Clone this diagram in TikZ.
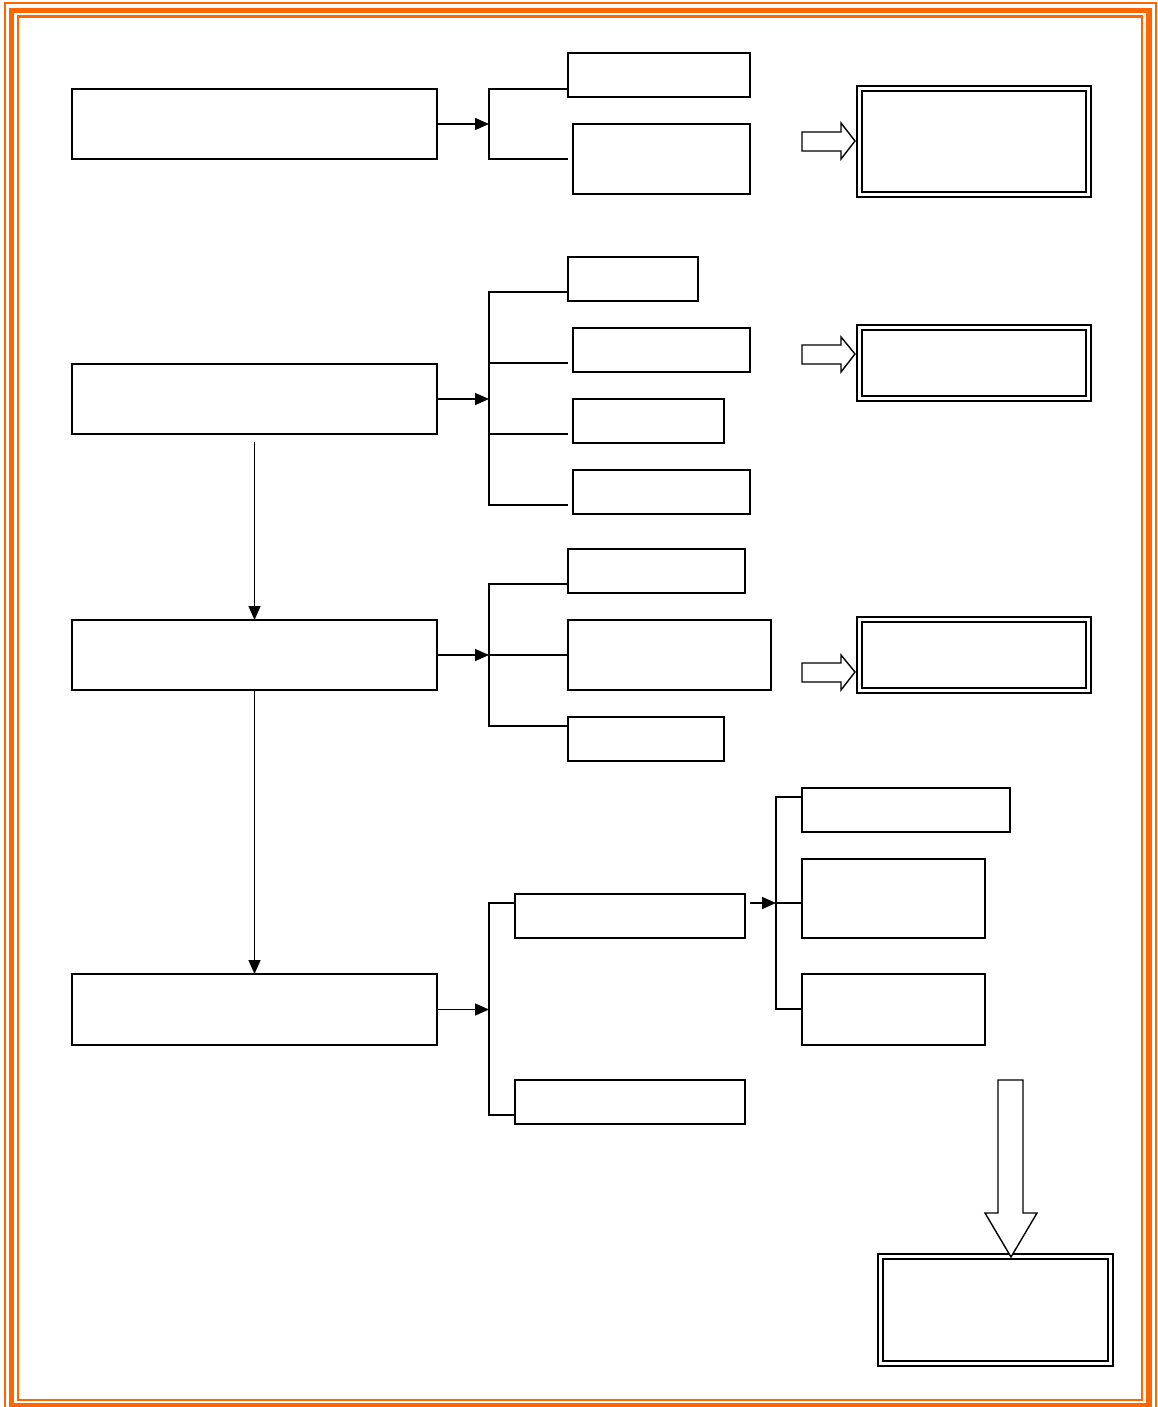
\documentclass[tikz,border=0pt]{standalone}
\usetikzlibrary{arrows.meta}
\definecolor{frameor}{RGB}{255,102,0}
\begin{document}
\begin{tikzpicture}[x=1pt,y=-1pt,
  bx/.style={draw, line width=1.4pt, rectangle, inner sep=0pt, outer sep=0pt, anchor=north west},
  dbx/.style={draw, line width=2pt, double, double distance=2.6pt, rectangle, inner sep=0pt, outer sep=0pt, anchor=north west},
  ln/.style={line width=1.4pt},
  arr/.style={line width=1.4pt, -{Triangle[length=14pt,width=12pt]}},
  blk/.style={draw, line width=1.4pt, fill=white, line join=miter},
  frm/.style={draw=frameor}]
\useasboundingbox (0,0) rectangle (1158,1407);
% frame
\draw[frm, line width=2pt] (4.5,3) rectangle (1155.5,1412);
\draw[frm, line width=5.5pt] (11.5,10.5) rectangle (1149,1406);
\draw[frm, line width=2.5pt] (18,16.5) rectangle (1142,1400);
% main column
\node[bx, minimum width=365pt, minimum height=70pt] (A) at (72,89) {};
\node[bx, minimum width=365pt, minimum height=70pt] (B) at (72,364) {};
\node[bx, minimum width=365pt, minimum height=70pt] (C) at (72,620) {};
\node[bx, minimum width=365pt, minimum height=71pt] (D) at (72,974) {};
% group A
\node[bx, minimum width=182pt, minimum height=44pt] (a1) at (568,53) {};
\node[bx, minimum width=177pt, minimum height=70pt] (a2) at (573,124) {};
% group B
\node[bx, minimum width=130pt, minimum height=44pt] (b1) at (568,257) {};
\node[bx, minimum width=177pt, minimum height=44pt] (b2) at (573,328) {};
\node[bx, minimum width=151pt, minimum height=44pt] (b3) at (573,399) {};
\node[bx, minimum width=177pt, minimum height=44pt] (b4) at (573,470) {};
% group C
\node[bx, minimum width=177pt, minimum height=44pt] (c1) at (568,549) {};
\node[bx, minimum width=203pt, minimum height=70pt] (c2) at (568,620) {};
\node[bx, minimum width=156pt, minimum height=44pt] (c3) at (568,717) {};
% group D
\node[bx, minimum width=230pt, minimum height=44pt] (d1) at (515,894) {};
\node[bx, minimum width=230pt, minimum height=44pt] (d2) at (515,1080) {};
\node[bx, minimum width=208pt, minimum height=44pt] (e1) at (802,788) {};
\node[bx, minimum width=183pt, minimum height=79pt] (e2) at (802,859) {};
\node[bx, minimum width=183pt, minimum height=71pt] (e3) at (802,974) {};
% double boxes
\node[dbx, minimum width=229pt, minimum height=106pt] (pa) at (859.5,88.5) {};
\node[dbx, minimum width=229pt, minimum height=71pt] (pb) at (859.5,327.5) {};
\node[dbx, minimum width=229pt, minimum height=71pt] (pc) at (859.5,619.5) {};
\node[dbx, minimum width=230pt, minimum height=107pt] (pd) at (880.5,1256.5) {};
% bracket coordinates
\coordinate (jA) at (489,124);
\coordinate (jB) at (489,399);
\coordinate (jC) at (489,655);
\coordinate (jD) at (489,1009);
\coordinate (jE) at (776,903);
\coordinate (sB) at (255,442);
\coordinate (sd1) at (750,903);
% main arrows
\draw[arr] (A.east) -- (A.east -| jA);
\draw[arr] (B.east) -- (B.east -| jB);
\draw[arr] (C.east) -- (C.east -| jC);
\draw[arr] (D.east) -- (D.east -| jD);
\draw[arr] (C.north |- sB) -- (C.north);
\draw[arr] (C.south) -- (D.north);
\draw[arr] (sd1) -- (jE);
% brackets
\draw[ln] (568,89) -- (489,89) -- (489,159) -- (568,159);
\draw[ln] (568,292) -- (489,292) -- (489,505) -- (568,505);
\draw[ln] (489,363) -- (568,363);
\draw[ln] (489,434) -- (568,434);
\draw[ln] (568,584) -- (489,584) -- (489,726) -- (568,726);
\draw[ln] (jC) -- (c2.west);
\draw[ln] (515,903) -- (489,903) -- (489,1115) -- (515,1115);
\draw[ln] (802,797) -- (776,797) -- (776,1009) -- (802,1009);
\draw[ln] (jE) -- (802,903);
% block arrows
\draw[blk] (802,132) -- (841,132) -- (841,123) -- (855,141) -- (841,159) -- (841,151) -- (802,151) -- cycle;
\draw[blk] (802,345) -- (841,345) -- (841,337) -- (855,354) -- (841,372) -- (841,364) -- (802,364) -- cycle;
\draw[blk] (802,663) -- (841,663) -- (841,655) -- (855,672) -- (841,690) -- (841,682) -- (802,682) -- cycle;
\draw[blk] (998,1080) -- (1023,1080) -- (1023,1213) -- (1037,1213) -- (1011,1257) -- (985,1213) -- (998,1213) -- cycle;
\end{tikzpicture}
\end{document}
